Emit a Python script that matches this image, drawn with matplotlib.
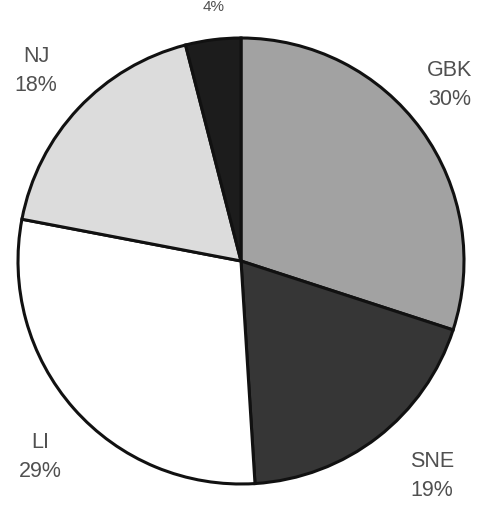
import matplotlib
matplotlib.use("Agg")
import matplotlib.pyplot as plt

labels = ["GBK", "SNE", "LI", "NJ", ""]
values = [30, 19, 29, 18, 4]
pct_labels = ["30%", "19%", "29%", "18%", "4%"]
colors = ["#a2a2a2", "#363636", "#ffffff", "#dcdcdc", "#1c1c1c"]

W, H = 484, 507
fig = plt.figure(figsize=(W / 100, H / 100), dpi=100)
ax = fig.add_axes([0, 0, 1, 1])

cx, cy, r = 241, H - 261, 223
ax.pie(values, colors=colors, startangle=90, counterclock=False,
       center=(cx, cy), radius=r, frame=True,
       wedgeprops=dict(edgecolor="#111111", linewidth=2.2))
ax.set_xlim(0, W)
ax.set_ylim(0, H)
ax.set_aspect("equal")
ax.axis("off")

font = dict(family=["Liberation Sans", "DejaVu Sans"], fontsize=15.5, color="#505050",
            ha="center", va="center", linespacing=1.45)
ax.text(450, H - 85, f"{labels[0]}\n{pct_labels[0]}", **font)
ax.text(432, H - 476, f"{labels[1]}\n{pct_labels[1]}", **font)
ax.text(40, H - 457, f"{labels[2]}\n{pct_labels[2]}", **font)
ax.text(36, H - 71, f"{labels[3]}\n{pct_labels[3]}", **font)
ax.text(214, H - 7, pct_labels[4], family=["Liberation Sans", "DejaVu Sans"],
        fontsize=11, color="#505050", ha="center", va="center")

fig.savefig("out.png", dpi=100)
